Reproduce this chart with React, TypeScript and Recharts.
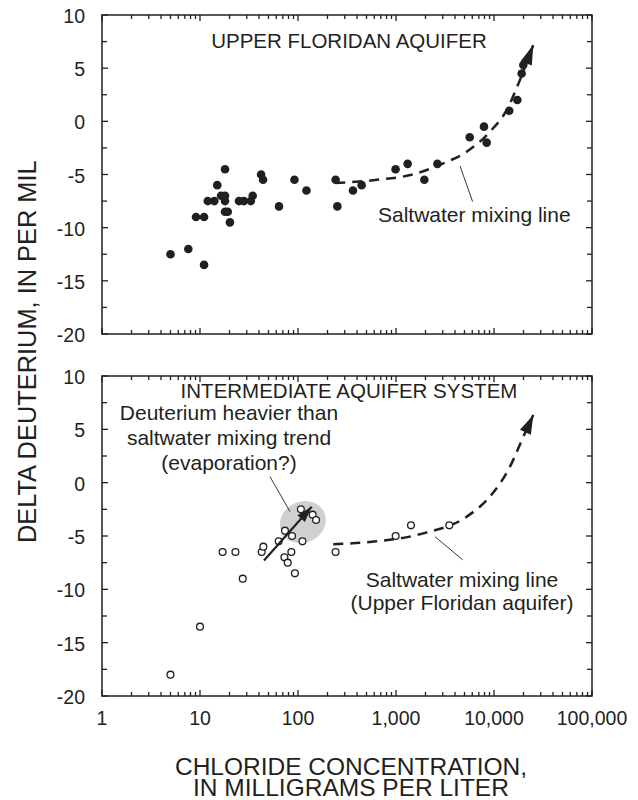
import React from "react"
import { ComposedChart, Scatter, Line, XAxis, YAxis, ReferenceLine } from "recharts"

const INK = "#231f20"
const FONT = '"Liberation Sans", Arial, Helvetica, sans-serif'

// Upper Floridan aquifer: chloride (mg/L) and delta deuterium (per mil)
const floridanChloride = [5, 7.6, 11, 9.1, 11, 12, 14, 15, 16.4, 18, 18, 18, 18, 19.2, 20.2, 25, 28, 33, 34.5, 42, 44, 64, 92, 122, 242, 252, 364, 446, 990, 1315, 1945, 2645, 5650, 7900, 8420, 14300, 17300, 19150, 19900]
const floridanDeuterium = [-12.5, -12, -13.5, -9, -9, -7.5, -7.5, -6, -7, -7, -7.5, -4.5, -8.5, -8.5, -9.5, -7.5, -7.5, -7.5, -7, -5, -5.5, -8, -5.5, -6.5, -5.5, -8, -6.5, -6, -4.5, -4, -5.5, -4, -1.5, -0.5, -2, 1, 2, 4.5, 5.3]

// Intermediate aquifer system
const intermediateChloride = [5, 10, 17, 23, 27.3, 42.6, 44.3, 63.5, 73.6, 72.6, 78.5, 85.5, 87, 93, 107, 111, 141, 153, 242, 992, 1422, 3500]
const intermediateDeuterium = [-18, -13.5, -6.5, -6.5, -9, -6.5, -6, -5.5, -4.5, -7, -7.5, -6.5, -5, -8.5, -2.5, -5.5, -3, -3.5, -6.5, -5, -4, -4]

// saltwater mixing line, as drawn in each panel
const upperMixChloride = [240, 640, 1400, 3040, 5260, 9100, 13500, 18400, 25200]
const upperMixDeuterium = [-5.8, -5.5, -5.05, -3.95, -2.86, -0.97, 1.07, 3.9, 7.2]
const lowerMixChloride = [229, 635, 1900, 5260, 9100, 14560, 19900, 25200]
const lowerMixDeuterium = [-5.77, -5.5, -4.75, -3.19, -1.3, 1.5, 4.3, 6.35]

// evaporation trend arrow and the shaded group around it
const evapChloride = [45, 138]
const evapDeuterium = [-7.3, -2.25]
const evapGroupChloride = [112]
const evapGroupDeuterium = [-3.7]

const decades = [1, 10, 100, 1000, 10000, 100000]
const minorSteps = [2, 3, 4, 5, 6, 7, 8, 9]
const xTicks = decades.flatMap((d, i) => (i < decades.length - 1 ? [d, ...minorSteps.map((m) => d * m)] : [d]))
const yTicks = [10, 7.5, 5, 2.5, 0, -2.5, -5, -7.5, -10, -12.5, -15, -17.5, -20]
const yLabelled = [10, 5, 0, -5, -10, -15, -20]
const X_DOMAIN = [1, 100000]
const Y_DOMAIN = [-20, 10]

const pairs = (xs: number[], ys: number[]) => xs.map((x, i) => ({ x, y: ys[i] }))
// last two points of a line; the second one carries the arrow tip
const headOf = (pts: { x: number; y: number }[]) => pts.slice(-2).map((d, i) => ({ ...d, tip: i === 1 }))

const floridanPoints = pairs(floridanChloride, floridanDeuterium)
const intermediatePoints = pairs(intermediateChloride, intermediateDeuterium)
const upperMix = pairs(upperMixChloride, upperMixDeuterium)
const lowerMix = pairs(lowerMixChloride, lowerMixDeuterium)
const evapArrow = pairs(evapChloride, evapDeuterium)
const evapGroup = pairs(evapGroupChloride, evapGroupDeuterium)

// tick marks sit on the four edges of the plot box, placed through the axis scales
const edgeTicks = [
  ...xTicks.flatMap((v) => [
    { x: v, y: Y_DOMAIN[0], edge: "bottom", major: decades.includes(v) },
    { x: v, y: Y_DOMAIN[1], edge: "top", major: decades.includes(v) },
  ]),
  ...yTicks.flatMap((v) => [
    { x: X_DOMAIN[0], y: v, edge: "left", major: yLabelled.includes(v) },
    { x: X_DOMAIN[1], y: v, edge: "right", major: yLabelled.includes(v) },
  ]),
]
const boxCorners = [
  { x: X_DOMAIN[0], y: Y_DOMAIN[0], far: false },
  { x: X_DOMAIN[1], y: Y_DOMAIN[1], far: true },
]

function XLabel(props: any) {
  const { x, y, payload } = props
  const v = payload.value
  if (!decades.includes(v)) return <g />
  return (
    <text x={x} y={y + 29} textAnchor="middle" fontSize={19.5} fontFamily={FONT} fill={INK}>
      {v.toLocaleString("en-US")}
    </text>
  )
}

function YLabel(props: any) {
  const { x, y, payload } = props
  const v = payload.value
  if (!yLabelled.includes(v)) return <g />
  return (
    <text x={x - 17} y={y + 8} textAnchor="end" fontSize={19.5} fontFamily={FONT} fill={INK}>
      {v}
    </text>
  )
}

// inward tick, drawn as a thin filled bar
const tickMark = (p: any) => {
  const { edge, major } = p.payload
  const w = 1.3
  if (edge === "bottom" || edge === "top") {
    const len = major ? 6 : 4
    return <rect x={p.cx - w / 2} y={edge === "bottom" ? p.cy - len : p.cy} width={w} height={len} fill={INK} />
  }
  const len = major ? 6 : 5
  return <rect x={edge === "left" ? p.cx : p.cx - len} y={p.cy - w / 2} width={len} height={w} fill={INK} />
}

// plot box spanned by its two opposite corners
function boxShape() {
  let corner = { cx: 0, cy: 0 }
  return (p: any) => {
    if (!p.payload.far) {
      corner = { cx: p.cx, cy: p.cy }
      return <g />
    }
    return (
      <rect x={Math.min(corner.cx, p.cx)} y={Math.min(corner.cy, p.cy)}
        width={Math.abs(p.cx - corner.cx)} height={Math.abs(p.cy - corner.cy)}
        fill="none" stroke={INK} strokeWidth={1.5} />
    )
  }
}

// filled triangle at the tip, turned along the last segment of its line
function arrowHead(len: number, wide: number) {
  let prev = { cx: 0, cy: 0 }
  return (p: any) => {
    if (!p.payload.tip) {
      prev = { cx: p.cx, cy: p.cy }
      return <g />
    }
    const deg = (Math.atan2(p.cy - prev.cy, p.cx - prev.cx) * 180) / Math.PI
    return (
      <polygon points={`0,0 ${-len},${-wide / 2} ${-len},${wide / 2}`}
        transform={`translate(${p.cx},${p.cy}) rotate(${deg})`} fill={INK} />
    )
  }
}

const upperBox = boxShape()
const lowerBox = boxShape()
const upperHead = arrowHead(20, 12)
const lowerHead = arrowHead(19, 12)
const evapHead = arrowHead(16, 10)

const filledDot = (p: any) => <circle cx={p.cx} cy={p.cy} r={4.3} fill={INK} />
const openDot = (p: any) => <circle cx={p.cx} cy={p.cy} r={3.4} fill="#fff" stroke={INK} strokeWidth={1.3} />
const groupShade = (p: any) => (
  <ellipse cx={p.cx} cy={p.cy} rx={23.5} ry={20.5} fill="#d0d0d0" transform={`rotate(-25 ${p.cx} ${p.cy})`} />
)

const caption: React.CSSProperties = {
  position: "absolute", fontFamily: FONT, color: INK, whiteSpace: "nowrap", textAlign: "center",
}

export default function App() {
  return (
    <div style={{ position: "absolute", left: 0, top: 0, width: 638, height: 800, background: "#fff" }}>
      {/* Upper Floridan aquifer */}
      <div style={{ position: "absolute", left: 0, top: 0 }}>
        <ComposedChart width={638} height={352} margin={{ top: 15, right: 46, bottom: 18, left: 0 }}>
          <XAxis type="number" dataKey="x" scale="log" domain={X_DOMAIN} ticks={xTicks} interval={0}
            tickSize={0} tickMargin={0} tickLine={false} axisLine={false} height={0} tick={false} />
          <YAxis type="number" dataKey="y" domain={Y_DOMAIN} ticks={yTicks} interval={0}
            width={102} tickSize={0} tickMargin={0} tickLine={false} axisLine={false} tick={<YLabel />} />
          <ReferenceLine segment={[{ x: 4500, y: -4.2 }, { x: 6050, y: -7.55 }]} stroke={INK} strokeWidth={0.9} />
          <Line data={upperMix} dataKey="y" type="monotone" stroke={INK} strokeWidth={2.5} strokeDasharray="10 7"
            dot={false} activeDot={false} isAnimationActive={false} />
          <Scatter data={floridanPoints} shape={filledDot} isAnimationActive={false} />
          <Scatter data={edgeTicks} shape={tickMark} isAnimationActive={false} />
          <Scatter data={boxCorners} shape={upperBox} isAnimationActive={false} />
          <Scatter data={headOf(upperMix)} shape={upperHead} isAnimationActive={false} zIndex={700} />
        </ComposedChart>
      </div>

      {/* Intermediate aquifer system */}
      <div style={{ position: "absolute", left: 0, top: 340 }}>
        <ComposedChart width={638} height={460} margin={{ top: 36, right: 46, bottom: 0, left: 0 }}>
          <XAxis type="number" dataKey="x" scale="log" domain={X_DOMAIN} ticks={xTicks} interval={0}
            tickSize={0} tickMargin={0} tickLine={false} axisLine={false} height={104} tick={<XLabel />} />
          <YAxis type="number" dataKey="y" domain={Y_DOMAIN} ticks={yTicks} interval={0}
            width={102} tickSize={0} tickMargin={0} tickLine={false} axisLine={false} tick={<YLabel />} />
          <Scatter data={evapGroup} shape={groupShade} isAnimationActive={false} zIndex={300} />
          <ReferenceLine segment={[{ x: 51.8, y: 0.56 }, { x: 82.9, y: -2.72 }]} stroke={INK} strokeWidth={0.9} />
          <ReferenceLine segment={[{ x: 2500, y: -5.06 }, { x: 4800, y: -7.24 }]} stroke={INK} strokeWidth={0.9} />
          <Line data={lowerMix} dataKey="y" type="monotone" stroke={INK} strokeWidth={2.5} strokeDasharray="10 7"
            dot={false} activeDot={false} isAnimationActive={false} />
          <Scatter data={intermediatePoints} shape={openDot} isAnimationActive={false} />
          <Scatter data={edgeTicks} shape={tickMark} isAnimationActive={false} />
          <Scatter data={boxCorners} shape={lowerBox} isAnimationActive={false} />
          <Line data={evapArrow} dataKey="y" type="linear" stroke={INK} strokeWidth={2.2}
            dot={false} activeDot={false} isAnimationActive={false} zIndex={650} />
          <Scatter data={headOf(lowerMix)} shape={lowerHead} isAnimationActive={false} zIndex={700} />
          <Scatter data={headOf(evapArrow)} shape={evapHead} isAnimationActive={false} zIndex={700} />
        </ComposedChart>
      </div>

      <div style={{ ...caption, left: -181.8, top: 339.3, width: 420, fontSize: 25.4, lineHeight: "25.4px", transform: "rotate(-90deg)" }}>
        DELTA DEUTERIUM, IN PER MIL
      </div>
      <div style={{ ...caption, left: 149, top: 30.6, width: 400, fontSize: 20.5, lineHeight: "20.5px" }}>
        UPPER FLORIDAN AQUIFER
      </div>
      <div style={{ ...caption, left: 378, top: 204.2, fontSize: 21, lineHeight: "21px", textAlign: "left" }}>
        Saltwater mixing line
      </div>
      <div style={{ ...caption, left: 149, top: 380.6, width: 400, fontSize: 20.5, lineHeight: "20.5px" }}>
        INTERMEDIATE AQUIFER SYSTEM
      </div>
      <div style={{ ...caption, left: 79, top: 400.2, width: 300, fontSize: 21, lineHeight: "25px" }}>
        Deuterium heavier than
        <br />
        saltwater mixing trend
        <br />
        (evaporation?)
      </div>
      <div style={{ ...caption, left: 312, top: 568.2, width: 300, fontSize: 21, lineHeight: "23px" }}>
        Saltwater mixing line
        <br />
        (Upper Floridan aquifer)
      </div>
      <div style={{ ...caption, left: 101, top: 756, width: 500, fontSize: 24.5, lineHeight: "21px" }}>
        CHLORIDE CONCENTRATION,
        <br />
        IN MILLIGRAMS PER LITER
      </div>
    </div>
  )
}
